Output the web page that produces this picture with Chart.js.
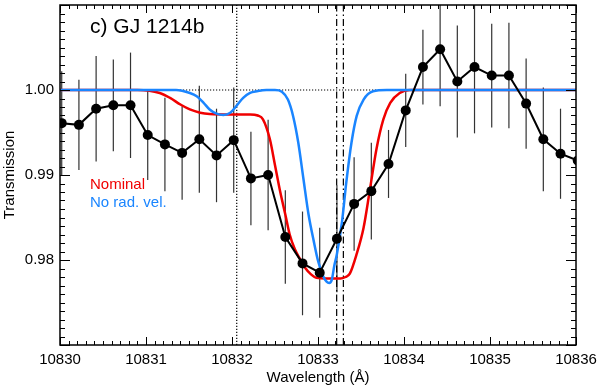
<!DOCTYPE html>
<html>
<head>
<meta charset="utf-8">
<script src="https://cdn.jsdelivr.net/npm/chart.js@4/dist/chart.umd.min.js"></script>
<style>
html, body { margin: 0; padding: 0; background: #fff; }
</style>
</head>
<body>
<canvas id="chart" width="598" height="387"></canvas>
<script>
// observed transmission spectrum
var dataWave = [10830.02, 10830.22, 10830.42, 10830.62, 10830.82, 10831.02, 10831.22, 10831.42, 10831.62, 10831.82,
    10832.02, 10832.22, 10832.42, 10832.62, 10832.82, 10833.02, 10833.22, 10833.42, 10833.62, 10833.82,
    10834.02, 10834.22, 10834.42, 10834.62, 10834.82, 10835.02, 10835.22, 10835.42, 10835.62, 10835.82, 10836.02];
var dataTrans = [0.9961, 0.9959, 0.9978, 0.9982, 0.9982, 0.9947, 0.9936, 0.9926, 0.9942, 0.9923,
    0.9941, 0.9896, 0.9900, 0.9827, 0.9796, 0.9785, 0.9825, 0.9866, 0.9881, 0.9913,
    0.9976, 1.0027, 1.0048, 1.0010, 1.0027, 1.0017, 1.0017, 0.9984, 0.9942, 0.9925, 0.9917];
var dataErr = [0.0061, 0.0053, 0.0062, 0.0054, 0.0062, 0.0053, 0.0055, 0.0055, 0.0063, 0.0055,
    0.0062, 0.0055, 0.0065, 0.0055, 0.0061, 0.0053, 0.0063, 0.0055, 0.0057, 0.0040,
    0.0043, 0.0044, 0.0067, 0.0066, 0.0078, 0.0061, 0.0062, 0.0053, 0.0061, 0.0053, 0.0055];

// model "Nominal"
var nominalWave = [10830.00, 10830.90, 10831.16, 10831.28, 10831.40, 10831.51, 10831.63, 10831.74, 10831.98, 10832.21,
    10832.30, 10832.36, 10832.44, 10832.50, 10832.56, 10832.62, 10832.67, 10832.73, 10832.79, 10832.85,
    10832.91, 10832.98, 10833.26, 10833.32, 10833.37, 10833.45, 10833.53, 10833.60, 10833.68, 10833.76,
    10833.84, 10833.95, 10834.07, 10836.00];
var nominalTrans = [1.0000, 1.0000, 0.99965, 0.99907, 0.99829, 0.99771, 0.99733, 0.99718, 0.99713, 0.99713,
    0.99700, 0.99655, 0.99423, 0.99115, 0.98805, 0.98535, 0.98303, 0.98129, 0.98013, 0.97908,
    0.97839, 0.97792, 0.97781, 0.97800, 0.97839, 0.98071, 0.98379, 0.98805, 0.99307, 0.99655,
    0.99849, 0.99965, 1.0000, 1.0000];

// model "No rad. vel."
var noRvWave = [10830.00, 10831.35, 10831.51, 10831.59, 10831.67, 10831.74, 10831.82, 10831.90, 10831.98, 10832.05,
    10832.13, 10832.21, 10832.29, 10832.40, 10832.50, 10832.58, 10832.65, 10832.71, 10832.77, 10832.83,
    10832.89, 10832.95, 10833.00, 10833.06, 10833.10, 10833.13, 10833.16, 10833.19, 10833.22, 10833.28,
    10833.33, 10833.39, 10833.45, 10833.53, 10833.64, 10833.80, 10836.00];
var noRvTrans = [1.0000, 1.0000, 0.99965, 0.99927, 0.99849, 0.99771, 0.99722, 0.99707, 0.99733, 0.99811,
    0.99907, 0.99965, 0.99985, 1.0000, 1.0000, 0.99980, 0.99887, 0.99695, 0.99385, 0.98959,
    0.98535, 0.98225, 0.97993, 0.97810, 0.97745, 0.97730, 0.97765, 0.97935, 0.98071, 0.98457,
    0.98921, 0.99385, 0.99695, 0.99887, 0.99985, 1.0000, 1.0000];

// reference markers
var dottedLineX = [10832.055];
var dashDotLinesX = [10833.217, 10833.295];
var continuumLevel = 1.00;

var xMin = 10830, xMax = 10836;
var yMin = 0.97, yMax = 1.01;
var xTickVals = [10830, 10831, 10832, 10833, 10834, 10835, 10836];
var yTickVals = [0.98, 0.99, 1.00];

var titleText = "c) GJ 1214b";
var seriesNames = ["Nominal", "No rad. vel."];
var seriesColors = ["#f00000", "#1a85ff"];
var FONT = "'Liberation Sans', Arial, Helvetica, sans-serif";

function pairs(xs, ys) {
    return xs.map(function (v, i) { return { x: v, y: ys[i] }; });
}

var datasets = [];
datasets.push({
    label: "data",
    data: pairs(dataWave, dataTrans),
    borderColor: "#000",
    backgroundColor: "#000",
    borderWidth: 2,
    pointRadius: 5,
    pointBorderWidth: 0,
    clip: 0
});
datasets.push({
    label: seriesNames[1],
    data: pairs(noRvWave, noRvTrans),
    borderColor: seriesColors[1],
    borderWidth: 2.5,
    pointRadius: 0,
    cubicInterpolationMode: "monotone"
});
datasets.push({
    label: seriesNames[0],
    data: pairs(nominalWave, nominalTrans),
    borderColor: seriesColors[0],
    borderWidth: 2.5,
    pointRadius: 0,
    cubicInterpolationMode: "monotone"
});
datasets.push({
    label: "continuum",
    data: [{ x: xMin, y: continuumLevel }, { x: xMax, y: continuumLevel }],
    borderColor: "#000",
    borderWidth: 1.2,
    borderDash: [1.2, 1.8],
    pointRadius: 0
});
dottedLineX.forEach(function (v) {
    datasets.push({
        label: "dotted",
        data: [{ x: v, y: yMin }, { x: v, y: yMax }],
        borderColor: "#000",
        borderWidth: 1.2,
        borderDash: [1.2, 1.8],
        pointRadius: 0
    });
});
dashDotLinesX.forEach(function (v) {
    datasets.push({
        label: "dashdot",
        data: [{ x: v, y: yMin }, { x: v, y: yMax }],
        borderColor: "#000",
        borderWidth: 1.2,
        borderDash: [7, 3, 1.5, 3],
        pointRadius: 0
    });
});

// vertical error bars behind the points
var errorBars = {
    id: "errorBars",
    beforeDatasetsDraw: function (chart) {
        var ctx = chart.ctx, a = chart.chartArea;
        var xs = chart.scales.x, ys = chart.scales.y;
        ctx.save();
        ctx.beginPath();
        ctx.rect(a.left, a.top, a.right - a.left, a.bottom - a.top);
        ctx.clip();
        ctx.strokeStyle = "#333";
        ctx.lineWidth = 1.2;
        for (var i = 0; i < dataWave.length; i++) {
            var px = xs.getPixelForValue(dataWave[i]);
            ctx.beginPath();
            ctx.moveTo(px, ys.getPixelForValue(dataTrans[i] - dataErr[i]));
            ctx.lineTo(px, ys.getPixelForValue(dataTrans[i] + dataErr[i]));
            ctx.stroke();
        }
        ctx.restore();
    }
};

// box with inward ticks on all four sides, plus the text labels
var frame = {
    id: "frame",
    afterDraw: function (chart) {
        var ctx = chart.ctx, a = chart.chartArea;
        var xs = chart.scales.x, ys = chart.scales.y;
        ctx.save();
        ctx.strokeStyle = "#000";
        ctx.lineWidth = 1;
        ctx.beginPath();
        for (var i = 0; i <= 60; i++) {
            var xv = xMin + i * 0.1;
            var px = Math.round(xs.getPixelForValue(xv)) + 0.5;
            var len = (i % 10 === 0) ? 8 : 4;
            ctx.moveTo(px, a.bottom); ctx.lineTo(px, a.bottom - len);
            ctx.moveTo(px, a.top); ctx.lineTo(px, a.top + len);
        }
        for (var j = 0; j <= 40; j++) {
            var yv = yMin + j * 0.001;
            var py = Math.round(ys.getPixelForValue(yv)) + 0.5;
            var ylen = (j % 10 === 0) ? 10 : 5;
            ctx.moveTo(a.left, py); ctx.lineTo(a.left + ylen, py);
            ctx.moveTo(a.right, py); ctx.lineTo(a.right - ylen, py);
        }
        ctx.stroke();
        ctx.lineWidth = 1.5;
        ctx.strokeRect(a.left, a.top, a.right - a.left, a.bottom - a.top);

        ctx.textBaseline = "alphabetic";
        ctx.textAlign = "left";
        ctx.fillStyle = "#000";
        ctx.font = "21px " + FONT;
        ctx.fillText(titleText, 90, 33);
        ctx.font = "15px " + FONT;
        ctx.fillStyle = seriesColors[0];
        ctx.fillText(seriesNames[0], 90, 189);
        ctx.fillStyle = seriesColors[1];
        ctx.fillText(seriesNames[1], 90, 207);
        ctx.restore();
    }
};

new Chart(document.getElementById("chart"), {
    type: "line",
    data: { datasets: datasets },
    options: {
        responsive: false,
        animation: false,
        devicePixelRatio: 1,
        layout: { padding: { top: 1, right: 22, left: 0, bottom: 0 } },
        plugins: { legend: { display: false }, tooltip: { enabled: false } },
        scales: {
            x: {
                type: "linear",
                min: xMin,
                max: xMax,
                grid: { display: false, drawTicks: false },
                border: { display: false },
                afterBuildTicks: function (s) { s.ticks = xTickVals.map(function (v) { return { value: v }; }); },
                afterFit: function (s) { s.height = 42; s.paddingLeft = 0; s.paddingRight = 0; },
                ticks: {
                    color: "#000",
                    padding: 6,
                    maxRotation: 0,
                    font: { family: FONT, size: 15 },
                    callback: function (v) { return String(v); }
                },
                title: {
                    display: true,
                    text: "Wavelength (Å)",
                    color: "#000",
                    font: { family: FONT, size: 15 },
                    padding: { top: 0, bottom: 0 }
                }
            },
            y: {
                type: "linear",
                min: yMin,
                max: yMax,
                grid: { display: false, drawTicks: false },
                border: { display: false },
                afterBuildTicks: function (s) { s.ticks = yTickVals.map(function (v) { return { value: v }; }); },
                afterFit: function (s) { s.width = 60; s.paddingTop = 0; s.paddingBottom = 0; },
                ticks: {
                    color: "#000",
                    padding: 6,
                    font: { family: FONT, size: 15 },
                    callback: function (v) { return v.toFixed(2); }
                },
                title: {
                    display: true,
                    text: "Transmission",
                    color: "#000",
                    font: { family: FONT, size: 15 },
                    padding: { top: 1, bottom: 0 }
                }
            }
        }
    },
    plugins: [errorBars, frame]
});
</script>
</body>
</html>
